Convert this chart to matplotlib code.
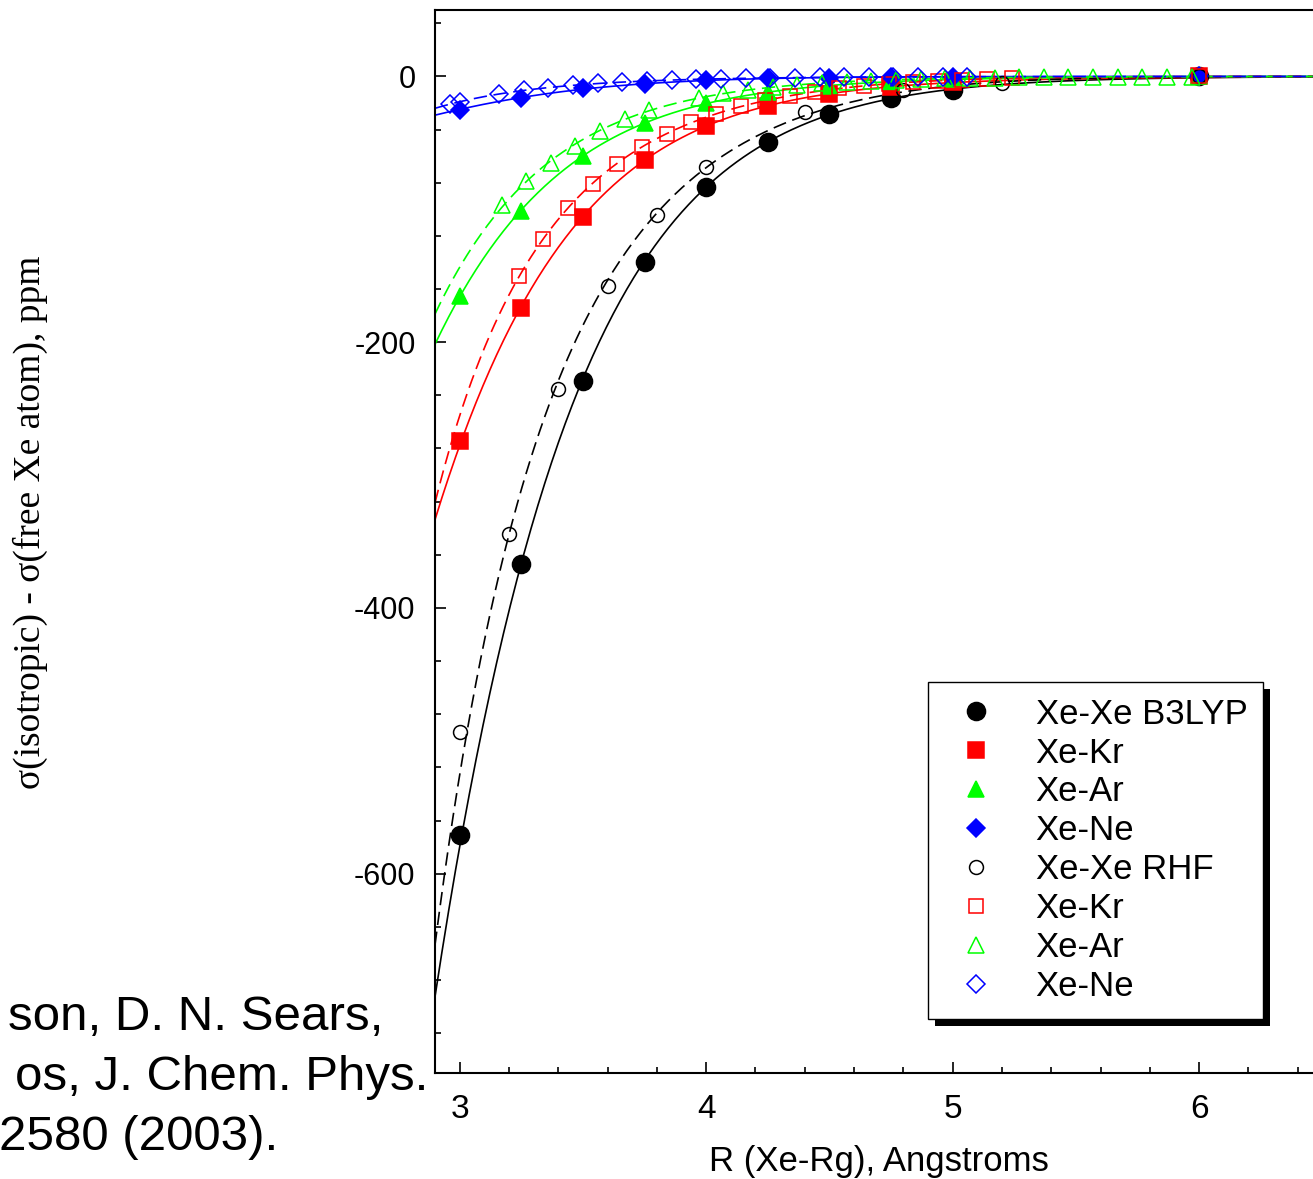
import numpy as np
import matplotlib
matplotlib.use("Agg")
import matplotlib.pyplot as plt
from matplotlib.lines import Line2D
from matplotlib.patches import Rectangle
from matplotlib.ticker import MultipleLocator
from matplotlib.transforms import IdentityTransform

plt.rcParams["axes.unicode_minus"] = False

# ---- data (ppm, relative to free Xe atom) ----
r_b3lyp = [3.0, 3.25, 3.5, 3.75, 4.0, 4.25, 4.5, 4.75, 5.0, 6.0]
xexe_b3lyp = [-571, -367, -229, -140, -83, -49, -28, -16.5, -10, 0]
xekr_b3lyp = [-274, -174, -106, -63, -37, -22, -13, -8, -4.5, 0]
xear_b3lyp = [-165, -101, -60, -35, -20, -12, -7, -4, -2.2, 0]
xene_b3lyp = [-25, -16, -9, -6, -3, -1.5, -0.8, -0.4, -0.2, 0]

r_xexe_rhf = [3.0, 3.2, 3.4, 3.6, 3.8, 4.0, 4.4, 4.8, 5.2, 6.0]
xexe_rhf = [-493, -344, -235, -158, -104, -68, -27, -10.5, -5, 0]

r_xekr_rhf = [3.24, 3.34, 3.44, 3.54, 3.64, 3.74, 3.84, 3.94, 4.04, 4.14, 4.24,
              4.34, 4.44, 4.54, 4.64, 4.74, 4.84, 4.94, 5.04, 5.14, 5.24, 6.0]
xekr_rhf = [-150, -122, -99, -81, -66, -53, -43, -34.5, -28, -22.5, -18,
            -14.5, -11.5, -9, -7.2, -5.7, -4.4, -3.3, -2.4, -1.7, -1.2, 0]

r_xear_rhf = [3.17, 3.27, 3.37, 3.47, 3.57, 3.67, 3.77, 3.97, 4.07, 4.17, 4.27,
              4.37, 4.47, 4.57, 4.67, 4.77, 4.87, 4.97, 5.07, 5.17, 5.27, 5.37,
              5.47, 5.57, 5.67, 5.77, 5.87, 5.97]
xear_rhf = [-97, -79, -65, -52, -41, -32, -25, -16, -12.5, -10, -8,
            -6.3, -5, -4, -3.2, -2.5, -2, -1.5, -1.2, -0.9, -0.7, -0.5,
            -0.4, -0.3, -0.2, -0.15, -0.1, -0.05]

r_xene_rhf = [2.96, 3.0, 3.16, 3.26, 3.36, 3.46, 3.56, 3.66, 3.76, 3.86, 3.96,
              4.06, 4.16, 4.26, 4.36, 4.46, 4.56, 4.66, 4.76, 4.86, 4.96, 5.06]
xene_rhf = [-21, -19, -13, -10.5, -8.5, -6.8, -5.3, -4.3, -3.4, -2.7, -2.1,
            -1.7, -1.4, -1.1, -0.9, -0.7, -0.6, -0.5, -0.4, -0.3, -0.2, -0.2]

# value of each fitted curve where it leaves the left axis (R = 2.9)
r_edge = 2.9
curve_edge = [-699, -336, -202, -29, -677, -321, -179, -24]

labels = ["Xe-Xe B3LYP", "Xe-Kr", "Xe-Ar", "Xe-Ne",
          "Xe-Xe RHF", "Xe-Kr", "Xe-Ar", "Xe-Ne"]

BLACK, RED, GREEN, BLUE = "#000000", "#ff0000", "#00ff00", "#0000ff"


def fit_curve(x, y, y_edge):
    # smooth fit through the points (log of shift, cubic in R)
    x = np.append(np.asarray(x, float), r_edge)
    y = np.append(np.asarray(y, float), y_edge)
    m = y < 0
    p = np.polyfit(x[m], np.log(-y[m]), 3, w=np.sqrt(-y[m]))
    xs = np.linspace(2.9, 6.6, 400)
    ys = -np.exp(np.polyval(p, xs))
    return xs, np.maximum.accumulate(ys)


fig = plt.figure(figsize=(13.13, 11.79), dpi=100)
ax = fig.add_axes([435 / 1313, 1 - 1073 / 1179, 912 / 1313, 1063 / 1179])

series = [
    (r_b3lyp, xexe_b3lyp, BLACK, "o", 13, True, "-"),
    (r_b3lyp, xekr_b3lyp, RED, "s", 11, True, "-"),
    (r_b3lyp, xear_b3lyp, GREEN, "^", 12, True, "-"),
    (r_b3lyp, xene_b3lyp, BLUE, "D", 9, True, "-"),
    (r_xexe_rhf, xexe_rhf, BLACK, "o", 10, False, (0, (8, 4))),
    (r_xekr_rhf, xekr_rhf, RED, "s", 10, False, (0, (8, 4))),
    (r_xear_rhf, xear_rhf, GREEN, "^", 11, False, (0, (8, 4))),
    (r_xene_rhf, xene_rhf, BLUE, "D", 9.5, False, (0, (8, 4))),
]

handles = []
for (x, y, c, mk, ms, filled, ls), ye in zip(series, curve_edge):
    xs, ys = fit_curve(x, y, ye)
    ax.plot(xs, ys, color=c, lw=1.2, ls=ls, zorder=2)
    fc = c if filled else "none"
    ax.plot(x, y, ls="none", marker=mk, ms=ms, mfc=fc, mec=c, mew=1.1, zorder=3)
    handles.append(Line2D([], [], ls="none", marker=mk, ms=ms, mfc=fc, mec=c, mew=1.1))

ax.set_xlim(2.9, 6.6)
ax.set_ylim(-750, 50)
ax.xaxis.set_major_locator(MultipleLocator(1))
ax.xaxis.set_minor_locator(MultipleLocator(0.2))
ax.yaxis.set_major_locator(MultipleLocator(200))
ax.yaxis.set_minor_locator(MultipleLocator(40))
ax.tick_params(which="both", direction="in", top=False, right=False, width=1.2)
ax.tick_params(which="major", length=8)
ax.tick_params(which="minor", length=4.5)
ax.tick_params(axis="y", which="major", pad=14, labelsize=22)
ax.tick_params(axis="x", which="major", pad=15, labelsize=24)
for sp in ax.spines.values():
    sp.set_linewidth(1.5)
for t in ax.get_xticklabels() + ax.get_yticklabels():
    t.set_fontfamily("Liberation Sans")

ax.set_xlabel("R (Xe-Rg), Angstroms", fontsize=25, family="Liberation Sans")
ax.xaxis.set_label_coords(0.487, -0.068)
ax.set_ylabel("σ(isotropic) - σ(free Xe atom), ppm", fontsize=27,
              family="Liberation Serif")
ax.yaxis.set_label_coords(-0.424, 0.518)

leg = ax.legend(handles, labels, loc="upper left",
                bbox_to_anchor=(928 / 1313, 1 - 682 / 1179),
                bbox_transform=fig.transFigure, borderaxespad=0,
                prop={"family": "Liberation Sans", "size": 25},
                handlelength=1.85, handletextpad=0.8, borderpad=0.45,
                labelspacing=0.17, fancybox=False, framealpha=1,
                edgecolor="black")
leg.get_frame().set_linewidth(1.0)
leg.set_zorder(10)

# drop shadow of the legend box
fig.canvas.draw()
bb = leg.get_window_extent()
fig.patches.append(Rectangle((bb.x0 + 7, bb.y0 - 7), bb.width, bb.height,
                             transform=IdentityTransform(), facecolor="black",
                             edgecolor="none", zorder=9))
leg.remove()
fig.add_artist(leg)

# reference text, cut off on the left in the original
cite = ["son, D. N. Sears,", "os, J. Chem. Phys.", "2580 (2003)."]
cite_right = [383, 428, 278]
cite_base = [1030, 1090, 1150]
for txt, xr, yb in zip(cite, cite_right, cite_base):
    fig.text(xr / 1313, 1 - yb / 1179, txt, ha="right", va="baseline",
             fontsize=35.5, family="Liberation Sans")

fig.savefig("out.png", dpi=100)
